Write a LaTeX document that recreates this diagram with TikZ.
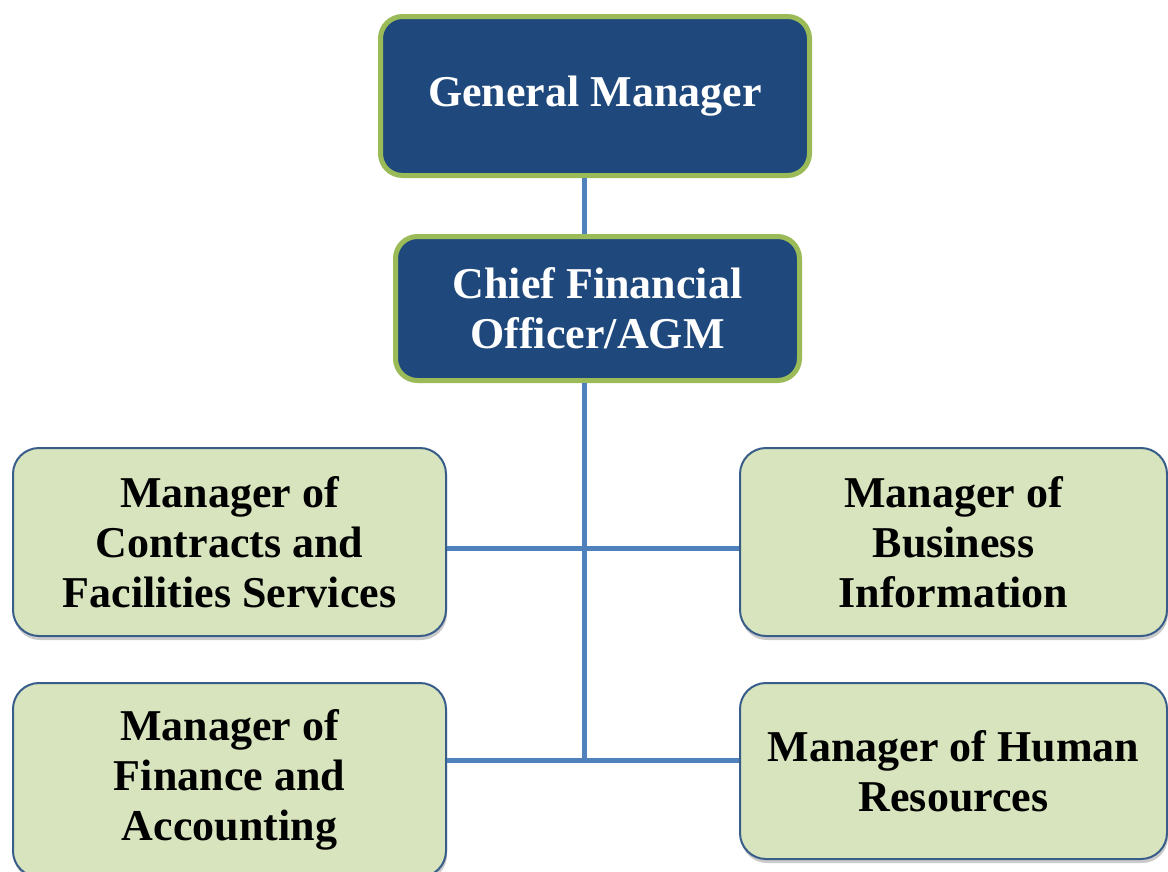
\documentclass[tikz,border=0pt]{standalone}
\usepackage{fontspec}
\setmainfont{Liberation Serif}
\usetikzlibrary{shadows}

\definecolor{headfill}{HTML}{1F497D}
\definecolor{headline}{HTML}{9BBB59}
\definecolor{leaffill}{HTML}{D7E4BD}
\definecolor{leafline}{HTML}{385D8A}
\definecolor{linkblue}{HTML}{4F81BD}

\begin{document}
\begin{tikzpicture}[
  x=1pt, y=-1pt,
  every node/.style={align=center, font=\bfseries\fontsize{44}{50}\selectfont, inner sep=0pt},
  headbox/.style={draw=headline, fill=headfill, text=white, line width=5pt, rounded corners=22pt},
  leafbox/.style={draw=leafline, fill=leaffill, text=black, line width=2pt, rounded corners=26pt,
    drop shadow={shadow xshift=1pt, shadow yshift=-4pt, opacity=0.35, fill=black!60}},
  link/.style={draw=linkblue, line width=5pt}
]
  \useasboundingbox (0,0) rectangle (1168,871);

  % ==========================================
  % 1. PUNTOS DE UNION
  % ==========================================
  \coordinate (tee) at (584,548);
  \coordinate (hub) at (584,760);

  % ==========================================
  % 2. CAJAS
  % ==========================================
  \node[headbox, minimum width=429, minimum height=159] (gm) at (595,96) {General Manager};
  \node[headbox, minimum width=404, minimum height=144] (cfo) at (597.5,308.5) {Chief Financial\\Officer/AGM};

  \node[leafbox, minimum width=433, minimum height=188] (mcf) at (229.5,542) {Manager of\\Contracts and\\Facilities Services};
  \node[leafbox, minimum width=427, minimum height=188] (mbi) at (953.5,542) {Manager of\\Business\\Information};
  \node[leafbox, minimum width=433, minimum height=194] (mfa) at (229.5,780) {Manager of\\Finance and\\Accounting};
  \node[leafbox, minimum width=427, minimum height=176] (mhr) at (953.5,771) {Manager of Human\\Resources};

  % ==========================================
  % 3. CONECTORES
  % ==========================================
  \draw[link] (gm.south -| hub) -- (cfo.north -| hub);
  \draw[link] (cfo.south -| hub) -- (hub);
  \draw[link] (mcf.east |- tee) -- (mbi.west |- tee);
  \draw[link] (mfa.east |- hub) -- (mhr.west |- hub);

\end{tikzpicture}
\end{document}
